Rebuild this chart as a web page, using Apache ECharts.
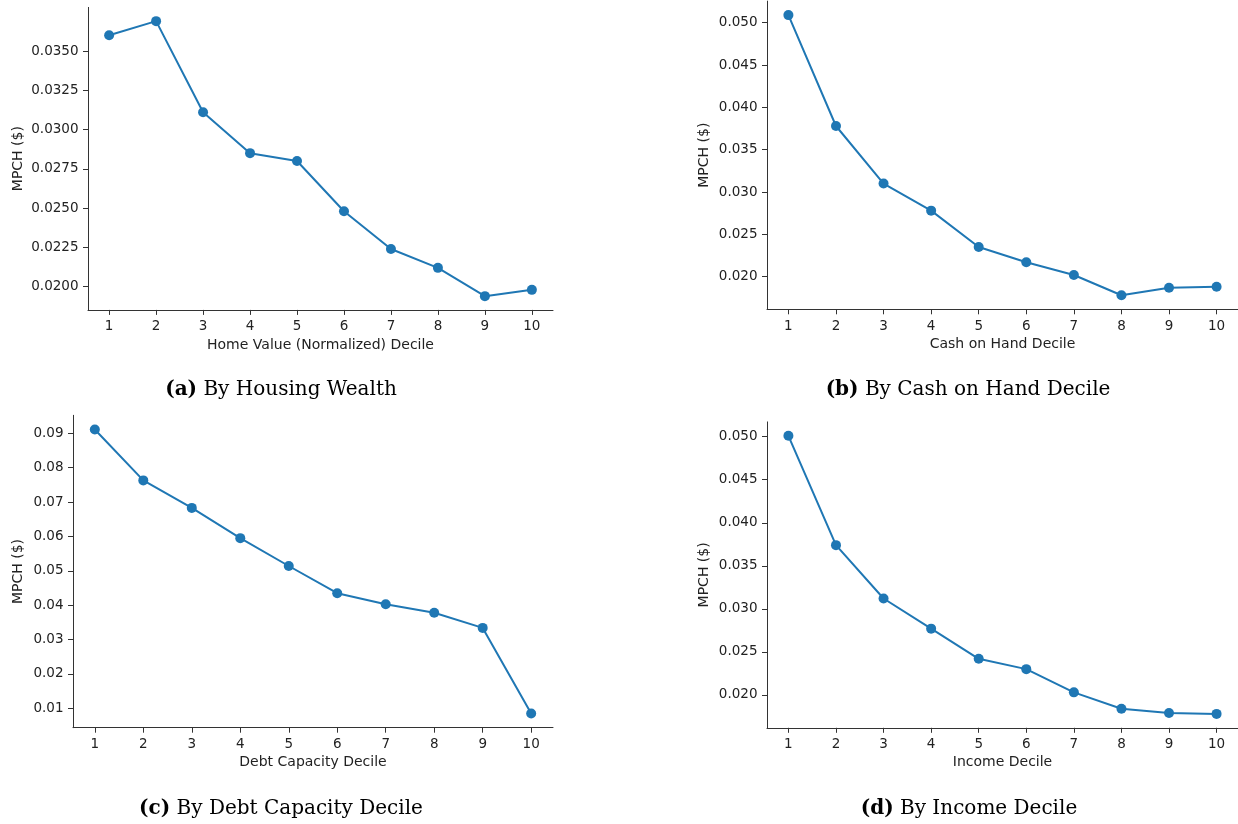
<!DOCTYPE html>
<html>
<head>
<meta charset="utf-8">
<script src="https://cdn.jsdelivr.net/npm/echarts@6/dist/echarts.min.js"></script>
<style>
html,body{margin:0;padding:0;background:#fff;}
#chart{width:1238px;height:824px;}
</style>
</head>
<body>
<div id="chart"></div>
<script>
// ---- data ----
const deciles = [1, 2, 3, 4, 5, 6, 7, 8, 9, 10];
const housingMPCH = [0.0360, 0.0369, 0.0311, 0.0285, 0.0280, 0.0248, 0.0224, 0.0212, 0.0194, 0.0198];
const cashMPCH    = [0.0509, 0.0378, 0.0310, 0.0278, 0.0235, 0.0217, 0.0202, 0.0178, 0.0187, 0.0188];
const debtMPCH    = [0.0911, 0.0763, 0.0683, 0.0595, 0.0514, 0.0435, 0.0403, 0.0378, 0.0334, 0.0085];
const incomeMPCH  = [0.0501, 0.0374, 0.0312, 0.0277, 0.0242, 0.0230, 0.0203, 0.0184, 0.0179, 0.0178];

const xTicks = [1, 2, 3, 4, 5, 6, 7, 8, 9, 10];
const yTicksA = [0.0200, 0.0225, 0.0250, 0.0275, 0.0300, 0.0325, 0.0350];
const yTicksB = [0.020, 0.025, 0.030, 0.035, 0.040, 0.045, 0.050];
const yTicksC = [0.01, 0.02, 0.03, 0.04, 0.05, 0.06, 0.07, 0.08, 0.09];
const yTicksD = [0.020, 0.025, 0.030, 0.035, 0.040, 0.045, 0.050];

const xNames = ['Home Value (Normalized) Decile', 'Cash on Hand Decile', 'Debt Capacity Decile', 'Income Decile'];
const yName = 'MPCH ($)';
const captionLetters = ['(a)', '(b)', '(c)', '(d)'];
const captionTexts = ['By Housing Wealth', 'By Cash on Hand Decile', 'By Debt Capacity Decile', 'By Income Decile'];

// ---- layout / style ----
const panels = [
  {data: housingMPCH, ticks: yTicksA, dec: 4, grid: {left: 88, top: 7.4, width: 465, height: 302.5}, yGap: 63, cap: {x: 276, y: 375}},
  {data: cashMPCH,    ticks: yTicksB, dec: 3, grid: {left: 767, top: 1.1, width: 473, height: 308.2}, yGap: 56, cap: {x: 963, y: 375}},
  {data: debtMPCH,    ticks: yTicksC, dec: 2, grid: {left: 73, top: 415.3, width: 480, height: 312.4}, yGap: 48, cap: {x: 276, y: 794}},
  {data: incomeMPCH,  ticks: yTicksD, dec: 3, grid: {left: 767, top: 421.9, width: 473, height: 305.9}, yGap: 56, cap: {x: 964, y: 794}}
];

const axisColor = '#333';
const textColor = '#222';
const lineColor = '#1f77b4';
const font = 'DejaVu Sans';

function padRange(arr) {
  const mn = Math.min(...arr), mx = Math.max(...arr);
  const pad = (mx - mn) * 0.05;
  return [mn - pad, mx + pad];
}

const option = {
  animation: false,
  backgroundColor: '#fff',
  title: [],
  grid: [],
  xAxis: [],
  yAxis: [],
  series: []
};

panels.forEach((p, i) => {
  option.grid.push(Object.assign({containLabel: false}, p.grid));
  option.xAxis.push({
    type: 'value', gridIndex: i, min: 0.55, max: 10.45,
    name: xNames[i], nameLocation: 'middle', nameGap: 28,
    nameTextStyle: {fontFamily: font, fontSize: 14, color: textColor},
    axisLine: {show: true, onZero: false, lineStyle: {color: axisColor, width: 1}},
    axisTick: {show: true, length: 5, customValues: xTicks, lineStyle: {color: axisColor}},
    axisLabel: {customValues: xTicks, margin: 10, fontFamily: font, fontSize: 13.5, color: textColor},
    splitLine: {show: false}
  });
  const r = padRange(p.data);
  option.yAxis.push({
    type: 'value', gridIndex: i, min: r[0], max: r[1],
    name: yName, nameLocation: 'middle', nameGap: p.yGap,
    nameTextStyle: {fontFamily: font, fontSize: 14, color: textColor},
    axisLine: {show: true, onZero: false, lineStyle: {color: axisColor, width: 1}},
    axisTick: {show: true, length: 5, customValues: p.ticks, lineStyle: {color: axisColor}},
    axisLabel: {customValues: p.ticks, margin: 9.5, fontFamily: font, fontSize: 13.5, color: textColor,
      formatter: v => v.toFixed(p.dec)},
    splitLine: {show: false}
  });
  option.series.push({
    type: 'line', xAxisIndex: i, yAxisIndex: i,
    data: deciles.map((d, k) => [d, p.data[k]]),
    symbol: 'circle', symbolSize: 10,
    lineStyle: {color: lineColor, width: 2},
    itemStyle: {color: lineColor},
    clip: false
  });
  option.title.push({
    left: p.cap.x, top: p.cap.y, textAlign: 'center',
    text: '{b|' + captionLetters[i] + '} ' + captionTexts[i],
    textStyle: {
      fontFamily: 'DejaVu Serif', fontSize: 20, fontWeight: 'normal', color: '#000',
      rich: {b: {fontFamily: 'DejaVu Serif', fontSize: 20, fontWeight: 'bold', color: '#000'}}
    }
  });
});

const chart = echarts.init(document.getElementById('chart'), null, {renderer: 'canvas'});
chart.setOption(option);
</script>
</body>
</html>
